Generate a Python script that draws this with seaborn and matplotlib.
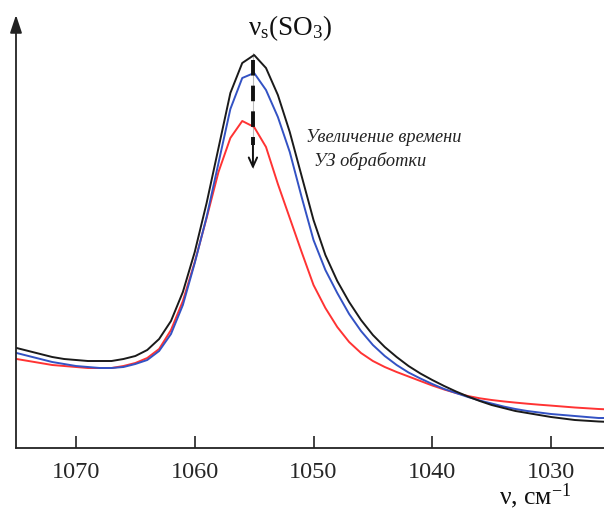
import numpy as np
import pandas as pd
import matplotlib
matplotlib.use("Agg")
import matplotlib.pyplot as plt
import seaborn as sns

# wavenumber, cm-1
wavenumber = [1075, 1074, 1073, 1072, 1071, 1070, 1069, 1068, 1067, 1066,
              1065, 1064, 1063, 1062, 1061, 1060, 1059, 1058, 1057, 1056,
              1055, 1054, 1053, 1052, 1051, 1050, 1049, 1048, 1047, 1046,
              1045, 1044, 1043, 1042, 1041, 1040, 1039, 1038, 1037, 1036,
              1035, 1034, 1033, 1032, 1031, 1030, 1028, 1026, 1025]

# intensity (arb. units), three ultrasonic treatment times
black_series = [1.00, 0.97, 0.94, 0.91, 0.89, 0.88, 0.87, 0.87, 0.87, 0.89,
                0.92, 0.98, 1.09, 1.27, 1.56, 1.96, 2.45, 3.00, 3.55, 3.85,
                3.93, 3.80, 3.53, 3.16, 2.72, 2.28, 1.93, 1.67, 1.46, 1.28,
                1.13, 1.01, 0.91, 0.82, 0.745, 0.68, 0.62, 0.565, 0.515, 0.47,
                0.43, 0.40, 0.37, 0.35, 0.33, 0.31, 0.28, 0.265, 0.26]
blue_series = [0.95, 0.92, 0.89, 0.86, 0.84, 0.82, 0.81, 0.80, 0.80, 0.81,
               0.84, 0.88, 0.97, 1.14, 1.43, 1.85, 2.31, 2.85, 3.39, 3.70,
               3.75, 3.58, 3.31, 2.96, 2.51, 2.08, 1.78, 1.55, 1.34, 1.17,
               1.03, 0.92, 0.83, 0.755, 0.695, 0.64, 0.59, 0.55, 0.51, 0.475,
               0.445, 0.415, 0.39, 0.37, 0.355, 0.34, 0.32, 0.30, 0.30]
red_series = [0.89, 0.87, 0.85, 0.83, 0.82, 0.81, 0.80, 0.80, 0.80, 0.82,
              0.85, 0.90, 0.99, 1.18, 1.47, 1.86, 2.30, 2.76, 3.10, 3.27,
              3.21, 3.01, 2.64, 2.30, 1.96, 1.63, 1.40, 1.21, 1.06, 0.95,
              0.87, 0.81, 0.76, 0.715, 0.67, 0.625, 0.585, 0.55, 0.52, 0.497,
              0.48, 0.466, 0.454, 0.443, 0.433, 0.424, 0.405, 0.39, 0.385]

series_names = ["red", "blue", "black"]
series_colors = ["#ff3333", "#3352c4", "#1a1a1a"]
xticks = [1070, 1060, 1050, 1040, 1030]

sns.set_theme(style="white")
plt.rcParams["font.family"] = ["Liberation Serif", "DejaVu Serif"]
plt.rcParams["mathtext.fontset"] = "custom"
plt.rcParams["mathtext.rm"] = "Liberation Serif"
plt.rcParams["mathtext.it"] = "Liberation Serif:italic"

df = pd.DataFrame({
    "wn": wavenumber * 3,
    "I": red_series + blue_series + black_series,
    "s": [series_names[0]] * len(wavenumber) + [series_names[1]] * len(wavenumber)
         + [series_names[2]] * len(wavenumber),
})

fig = plt.figure(figsize=(6.04, 5.12), dpi=100)
ax = fig.add_axes([16 / 604, 64 / 512, 1 - 16 / 604, (448 - 15) / 512])
sns.lineplot(data=df, x="wn", y="I", hue="s", hue_order=series_names,
             palette=series_colors, linewidth=1.4, legend=False, ax=ax,
             estimator=None, sort=False)

ax.set_xlim(1075.05, 1025.54)
ax.set_ylim(0, 4.33)
ax.set_xticks(xticks)
ax.set_xticklabels([str(t) for t in xticks], fontsize=17.5)
ax.set_yticks([])
ax.tick_params(axis="x", direction="in", length=9, width=1.2, color="#222222",
               pad=10, bottom=True)
ax.set_xlabel("")
ax.set_ylabel("")
for side in ["top", "right", "left"]:
    ax.spines[side].set_visible(False)
ax.spines["bottom"].set_color("#222222")
ax.spines["bottom"].set_linewidth(1.3)

# y axis with arrow
ax.annotate("", xy=(0, 1.0), xytext=(0, 0), xycoords="axes fraction",
            arrowprops=dict(arrowstyle="-|>,head_length=0.9,head_width=0.3",
                            color="#222222", lw=1.3, shrinkA=0, shrinkB=0))

# peak marker: thin grey line, dashed shaft and open arrow head
ax.plot([1055.1, 1055.1], [3.95, 2.80], color="#bbbbbb", lw=0.8, zorder=1)
ax.plot([1055.1, 1055.1], [3.88, 3.03], color="#111111", lw=2.8,
        linestyle=(0, (4.0, 2.6)), solid_capstyle="butt", zorder=5)
ax.annotate("", xy=(1055.1, 2.79), xytext=(1055.1, 3.03),
            arrowprops=dict(arrowstyle="->,head_length=0.55,head_width=0.25",
                            color="#111111", lw=1.4, shrinkA=0, shrinkB=0),
            zorder=5)

ax.text(1052.0, 4.20, r"ν$_{\rm s}$(SO$_3$)", fontsize=19.5, ha="center",
        va="center", color="#111111")
ax.text(1050.6, 3.10, "Увеличение времени", fontsize=13.2, style="italic",
        ha="left", va="center", color="#222222")
ax.text(1050.0, 2.87, "УЗ обработки", fontsize=13.2, style="italic",
        ha="left", va="center", color="#222222")

fig.text(535 / 604, 1 - 496 / 512, "ν, см$^{-1}$", fontsize=18.5, ha="center",
         va="center", color="#111111")

fig.savefig("out.png", dpi=100)
